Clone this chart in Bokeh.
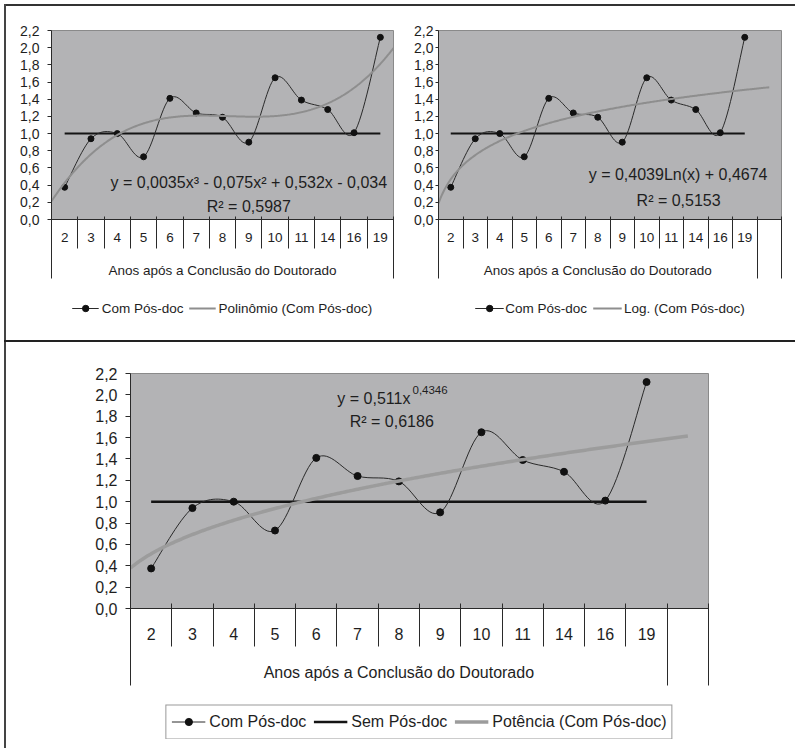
import numpy as np
from bokeh.plotting import figure
from bokeh.models import (Range1d, LinearAxis, FixedTicker, CustomJSTickFormatter,
                          Legend, LegendItem, Label, Spacer)
from bokeh.embed import file_html
from bokeh.resources import INLINE

# ---------------- data ----------------
categories = ["2", "3", "4", "5", "6", "7", "8", "9", "10", "11", "14", "16", "19"]
com_pos_doc = [0.375, 0.94, 1.00, 0.73, 1.41, 1.24, 1.19, 0.90, 1.65, 1.39, 1.28, 1.01, 2.12]
sem_pos_doc = [1.0, 1.0, 1.0, 1.0, 1.0, 1.0, 1.0, 1.0, 1.0, 1.0, 1.0, 1.0, 1.0]
y_ticks = [0.0, 0.2, 0.4, 0.6, 0.8, 1.0, 1.2, 1.4, 1.6, 1.8, 2.0, 2.2]
x_group_label = "Anos após a Conclusão do Doutorado"
name_com = "Com Pós-doc"
name_sem = "Sem Pós-doc"
name_poly = "Polinômio (Com Pós-doc)"
name_log = "Log. (Com Pós-doc)"
name_pow = "Potência (Com Pós-doc)"
eq_poly = "y = 0,0035x³ - 0,075x² + 0,532x - 0,034"
r2_poly = "R² = 0,5987"
eq_log = "y = 0,4039Ln(x) + 0,4674"
r2_log = "R² = 0,5153"
eq_pow = "y = 0,511x"
eq_pow_exp = "0,4346"
r2_pow = "R² = 0,6186"

FONT = "Liberation Sans"
TXT = "#1e1e1e"
PLOT_BG = "#b3b3b5"
AXIS = "#2a2a2a"
COM_LINE = "#2a2a2a"
COM_MARK = "#111111"
SEM_LINE = "#141414"
TREND_TOP = "#8e8e8e"
TREND_BOT = "#9c9c9c"

n = len(categories)
xi = [i + 1 for i in range(n)]
xf = np.array(xi, dtype=float)
yf = np.array(com_pos_doc, dtype=float)

# trend lines: least-squares fits of the "Com Pós-doc" series (as Excel does)
poly_c = np.polyfit(xf, yf, 3)
log_c = np.polyfit(np.log(xf), yf, 1)
pow_c = np.polyfit(np.log(xf), np.log(yf), 1)


def trend(kind, x_end):
    xs = np.linspace(0.5, x_end, 300)
    if kind == "poly":
        ys = np.polyval(poly_c, xs)
    elif kind == "log":
        ys = log_c[0] * np.log(xs) + log_c[1]
    else:
        ys = np.exp(pow_c[1]) * xs ** pow_c[0]
    return xs, ys


def smooth_segments(x, y):
    # Bezier control points for a smoothed line through the data (Catmull-Rom style)
    xp = np.concatenate([[x[0]], x, [x[-1]]])
    yp = np.concatenate([[y[0]], y, [y[-1]]])
    x0, y0, x1, y1, cx0, cy0, cx1, cy1 = [], [], [], [], [], [], [], []
    for i in range(len(x) - 1):
        x0.append(x[i]); y0.append(y[i]); x1.append(x[i + 1]); y1.append(y[i + 1])
        cx0.append(x[i] + (xp[i + 2] - xp[i]) / 6.0)
        cy0.append(y[i] + (yp[i + 2] - yp[i]) / 6.0)
        cx1.append(x[i + 1] - (xp[i + 3] - xp[i + 1]) / 6.0)
        cy1.append(y[i + 1] - (yp[i + 3] - yp[i + 1]) / 6.0)
    return dict(x0=x0, y0=y0, x1=x1, y1=y1, cx0=cx0, cy0=cy0, cx1=cx1, cy1=cy1)


def absolute(left, top):
    return {"position": "absolute", "left": f"{left}px", "top": f"{top}px"}


def make_panel(left, top, frame_w, frame_h, borders, x_end, inner, outer, cfg):
    p = figure(frame_width=frame_w, frame_height=frame_h,
               x_range=Range1d(0.5, x_end), y_range=Range1d(0, 2.2),
               x_axis_location=None, toolbar_location=None, output_backend="svg",
               min_border_left=borders[0], min_border_right=borders[1],
               min_border_top=borders[2], min_border_bottom=borders[3],
               styles=absolute(left, top))
    p.background_fill_color = PLOT_BG
    p.border_fill_color = "white"
    p.outline_line_color = "#8a8a8a"
    p.grid.visible = False

    yax = p.yaxis[0]
    yax.ticker = FixedTicker(ticks=y_ticks)
    yax.formatter = CustomJSTickFormatter(code="return tick.toFixed(1).replace('.', ',');")
    yax.major_label_text_font = FONT
    yax.major_label_text_font_size = cfg["ytick_size"]
    yax.major_label_text_color = TXT
    yax.major_label_standoff = cfg["ytick_standoff"]
    yax.major_tick_out = cfg["ytick_out"]
    yax.major_tick_in = 0
    yax.minor_tick_out = 0
    yax.minor_tick_line_color = None
    yax.axis_line_color = AXIS
    yax.major_tick_line_color = AXIS

    h = cfg["label_h"]
    # axis A: axis line, inner separators, category labels (pulled up with negative standoff)
    ax_a = LinearAxis(ticker=FixedTicker(ticks=xi, minor_ticks=inner),
                      major_label_overrides={k: c for k, c in zip(xi, categories)},
                      major_tick_out=0, major_tick_in=0, major_tick_line_color=None,
                      minor_tick_in=cfg["tick_in"], minor_tick_out=cfg["inner_out"],
                      minor_tick_line_color=AXIS, axis_line_color=AXIS,
                      major_label_standoff=cfg["cat_top"] - cfg["inner_out"],
                      major_label_text_font=FONT, major_label_text_font_size=cfg["cat_size"],
                      major_label_text_color=TXT)
    e_a = cfg["cat_top"] + h
    # axis B: outer separators + group label
    gc = (xi[0] + xi[-1]) // 2
    ax_b = LinearAxis(ticker=FixedTicker(ticks=[gc], minor_ticks=outer),
                      major_label_overrides={gc: x_group_label},
                      major_tick_out=0, major_tick_in=0, major_tick_line_color=None,
                      minor_tick_in=e_a + cfg["tick_in"], minor_tick_out=cfg["outer_out"] - e_a,
                      minor_tick_line_color=AXIS, axis_line_color=None,
                      major_label_standoff=cfg["grp_top"] - cfg["outer_out"],
                      major_label_text_font=FONT, major_label_text_font_size=cfg["cat_size"],
                      major_label_text_color=TXT)
    for ax in (ax_a, ax_b):
        p.add_layout(ax, "below")
    return p


def add_series(p, kind, x_end, cfg):
    p.line(xi, sem_pos_doc, line_color=SEM_LINE, line_width=cfg["sem_w"])
    p.bezier(x0="x0", y0="y0", x1="x1", y1="y1", cx0="cx0", cy0="cy0", cx1="cx1", cy1="cy1",
             source=smooth_segments(xf, yf), line_color=COM_LINE, line_width=1)
    p.scatter(xi, com_pos_doc, size=cfg["marker"], fill_color=COM_MARK, line_color=COM_MARK)
    xs, ys = trend(kind, x_end)
    p.line(xs, ys, line_color=cfg["trend_color"], line_width=cfg["trend_w"])


def add_label(p, x, y, text, size, align="center"):
    p.add_layout(Label(x=x, y=y, text=text, text_font=FONT, text_font_size=size,
                       text_color=TXT, text_align=align, text_baseline="middle"))


def legend_box(left, top, w, h, entries, kind, x_end, cfg):
    # legend strip: the same series with the same styles, viewed through a window that
    # shows none of them, so that only the legend samples and labels are visible
    lf = figure(frame_width=w, frame_height=h, min_border=0,
                x_range=Range1d(-20, -19), y_range=Range1d(-20, -19),
                x_axis_location=None, y_axis_location=None, toolbar_location=None,
                output_backend="svg", styles=absolute(left, top))
    lf.outline_line_color = None
    lf.background_fill_color = "white"
    lf.border_fill_color = "white"
    lf.grid.visible = False
    items = []
    for name in entries:
        if name == name_com:
            r1 = lf.line(xi, com_pos_doc, line_color=COM_LINE, line_width=1)
            r2 = lf.scatter(xi, com_pos_doc, fill_color=COM_MARK, line_color=COM_MARK)
            items.append(LegendItem(label=name, renderers=[r1, r2]))
        elif name == name_sem:
            r = lf.line(xi, sem_pos_doc, line_color=SEM_LINE, line_width=cfg["sem_w"])
            items.append(LegendItem(label=name, renderers=[r]))
        else:
            xs, ys = trend(kind, x_end)
            r = lf.line(xs, ys, line_color=cfg["trend_color"], line_width=cfg["trend_w"])
            items.append(LegendItem(label=name, renderers=[r]))
    leg = Legend(items=items, orientation="horizontal", location="center",
                 margin=0, padding=cfg["leg_pad"], spacing=cfg["leg_spacing"],
                 glyph_width=cfg["glyph_w"], glyph_height=cfg["glyph_h"], label_height=cfg["label_hh"],
                 label_standoff=cfg["leg_standoff"],
                 label_text_font=FONT, label_text_font_size=cfg["leg_size"], label_text_color=TXT,
                 border_line_color=cfg["leg_border"], border_line_width=1,
                 background_fill_color="white", background_fill_alpha=1.0)
    lf.add_layout(leg)
    return lf


top_cfg = dict(ytick_size="14px", tick_in=3, inner_out=29, outer_out=59, label_h=12,
               cat_size="13.5px", cat_top=13, grp_top=43,
               sem_w=2, marker=6, trend_w=2, trend_color=TREND_TOP,
               leg_pad=2, leg_spacing=5, glyph_w=27, glyph_h=16, label_hh=18, leg_standoff=3,
               leg_size="13.5px", leg_border=None)

inner_ticks = [i + 0.5 for i in xi[:-1]]

# ---- top-left: polynomial ----
cfg1 = dict(top_cfg, ytick_out=4, ytick_standoff=8)
p1 = make_panel(5, 5, 342, 189, (46, 2, 25, 121), n + 0.5, inner_ticks, [0.5, n + 0.5], cfg1)
add_series(p1, "poly", n + 0.5, cfg1)
add_label(p1, 8.0, 0.425, eq_poly, "16px")
add_label(p1, 8.0, 0.146, r2_poly, "16px")
l1 = legend_box(51, 293, 342, 30, [name_com, name_poly], "poly", n + 0.5, cfg1)

# ---- top-right: logarithmic ----
cfg2 = dict(top_cfg, ytick_out=3, ytick_standoff=2, glyph_w=29, leg_standoff=2, leg_spacing=6)
p2 = make_panel(395, 5, 343, 189, (43, 4, 25, 121), n + 1.5, inner_ticks, [0.5, n + 0.5, n + 1.5], cfg2)
add_series(p2, "log", n + 1.0, cfg2)
add_label(p2, 10.28, 0.527, eq_log, "16px")
add_label(p2, 10.3, 0.224, r2_log, "16px")
l2 = legend_box(438, 293, 343, 30, [name_com, name_log], "log", n + 1.0, cfg2)

# ---- bottom: power ----
cfg3 = dict(ytick_size="16px", ytick_out=5, ytick_standoff=8, tick_in=5, inner_out=38, outer_out=77,
            label_h=15, cat_size="16px", cat_top=19, grp_top=55,
            sem_w=2.5, marker=7, trend_w=3.5, trend_color=TREND_BOT,
            leg_pad=5, leg_spacing=7, glyph_w=34, glyph_h=18, label_hh=23, leg_standoff=4,
            leg_size="16px", leg_border="#333333")
p3 = make_panel(5, 342, 578, 235, (125, 77, 31, 133), n + 1.5, inner_ticks, [0.5, n + 0.5, n + 1.5], cfg3)
add_series(p3, "pow", n + 1.0, cfg3)
add_label(p3, 5.51, 1.969, eq_pow, "16px", "left")
add_label(p3, 7.33, 2.044, eq_pow_exp, "11.5px", "left")
add_label(p3, 5.81, 1.747, r2_pow, "16px", "left")
l3 = legend_box(130, 704, 578, 35, [name_com, name_sem, name_pow], "pow", n + 1.0, cfg3)


def rule(left, top, w, h, color):
    st = absolute(left, top)
    st["background-color"] = color
    return Spacer(width=w, height=h, styles=st)


top_line = rule(4, 4, 791, 2, "#333333")
left_line = rule(4, 4, 2, 744, "#444444")
mid_line = rule(4, 340, 791, 2, "#222222")

open("out.html", "w").write(file_html([p1, p2, p3, l1, l2, l3, top_line, left_line, mid_line], INLINE))
